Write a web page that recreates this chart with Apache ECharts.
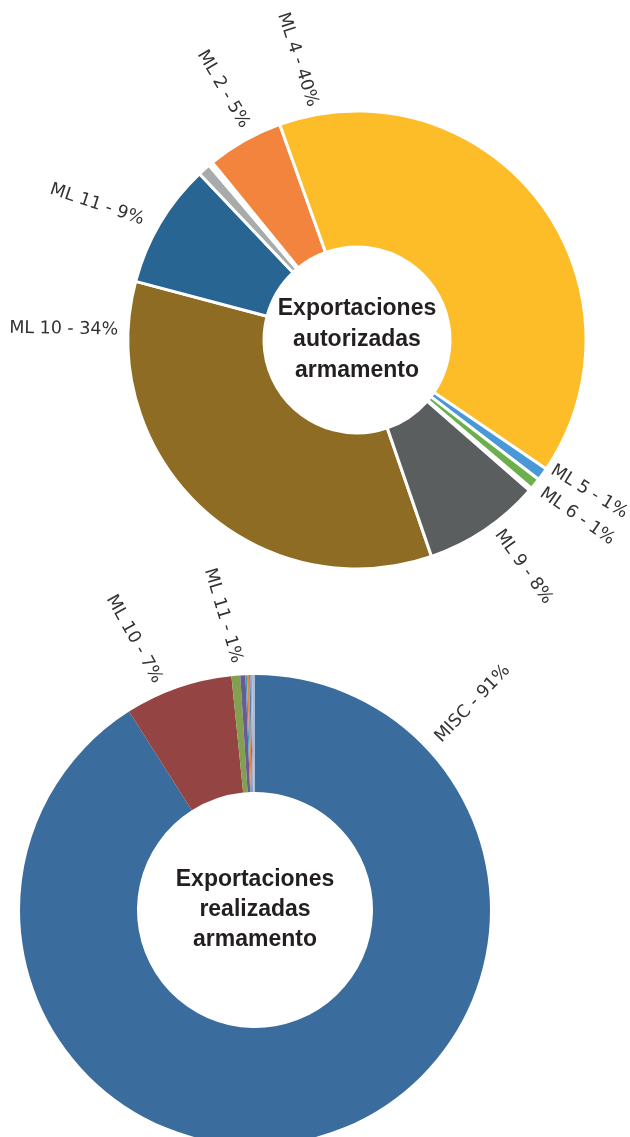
<!DOCTYPE html>
<html><head><meta charset="utf-8">
<script src="https://cdn.jsdelivr.net/npm/echarts@6/dist/echarts.min.js"></script>
<style>html,body{margin:0;padding:0;background:#fff}#c{width:630px;height:1137px}</style>
</head><body><div id="c"></div>
<script>
// ---- data ----
const autorizadasNames  = ['ML 10','ML 11','ML 13','ML 15','ML 17','ML 2','ML 4','ML 5','ML 6','ML 7','ML 9'];
const autorizadasValues = [34.4, 8.8, 0.9, 0.2, 0.1, 5.4, 40.0, 0.9, 0.8, 0.2, 8.3];
const autorizadasLabeled = ['ML 10','ML 11','ML 2','ML 4','ML 5','ML 6','ML 9'];

const realizadasNames  = ['MISC','ML 10','ML 11','ML 13','ML 2','ML 4','ML 5','ML 6','ML 9'];
const realizadasValues = [91.0, 7.4, 0.6, 0.35, 0.1, 0.15, 0.1, 0.1, 0.2];
const realizadasLabeled = ['MISC','ML 10','ML 11'];

const centerTitles = ['Exportaciones\nautorizadas\narmamento', 'Exportaciones\nrealizadas\narmamento'];

// ---- styles / layout ----
const autorizadasColors = ['#8E6C23','#286593','#A7ABAC','#6AB04C','#F0A030','#F2843E','#FDBD29','#4A98D8','#6CB04D','#C0504D','#5A5E5F'];
const realizadasColors  = ['#3A6D9E','#944442','#82A04F','#6B5B95','#3F9DB6','#E8873A','#4E7FC0','#A8A2CE','#A9BCD6'];
// label placement as in the reference: [direction of the end nearest the ring (deg clockwise from 12 o'clock),
//  text slope (deg, clockwise from horizontal), distance beyond outer radius (px)]
const autorizadasLabelPlace = {
  'ML 2': [332.3, 59.7, 12], 'ML 4': [349.3, 71.9, 9], 'ML 5': [123.5, 31.5, 5], 'ML 6': [129.4, 34.9, 10],
  'ML 9': [143.6, 54.5, 9], 'ML 10': [272.4, 1, 10], 'ML 11': [299.3, 18.5, 16]
};
const realizadasLabelPlace = { 'MISC': [47.1, -46.2, 15], 'ML 10': [336.9, 61, 13], 'ML 11': [355.8, 73.5, 13] };

const C1 = [357, 340], R1 = [93, 229];
const C2 = [255, 910], R2 = [118, 235];
const labelFont = '"DejaVu Sans", sans-serif';
const titleFont = '"Liberation Sans", Arial, sans-serif';

function placeLabel(c, r, place) {
  const theta = place[0], slope = place[1];
  const rad = (theta - 90) * Math.PI / 180;
  const dx = Math.cos(rad), dy = Math.sin(rad);
  const dist = r + place[2];
  return {
    x: c[0] + dist * dx, y: c[1] + dist * dy,
    rotate: -slope,
    align: dx < 0 ? 'right' : 'left',
    verticalAlign: 'middle'
  };
}

function buildData(names, values, colors, labeled) {
  return names.map((n, i) => ({
    name: n, value: values[i],
    itemStyle: { color: colors[i] },
    label: { show: labeled.indexOf(n) >= 0 }
  }));
}

function pieSeries(names, values, colors, labeled, places, center, radius, startAngle, border) {
  return {
    type: 'pie', center: center, radius: radius, startAngle: startAngle, clockwise: true,
    avoidLabelOverlap: false, silent: true, animation: false,
    itemStyle: { borderColor: '#fff', borderWidth: border },
    label: {
      position: 'outside', rotate: 'radial', distanceToLabelLine: 0,
      fontFamily: labelFont, fontSize: 17.5, color: '#333',
      formatter: p => p.name + ' - ' + Math.round(p.percent) + '%'
    },
    labelLine: { show: false, length: 12, length2: 0 },
    labelLayout: function (p) {
      const pl = places[names[p.dataIndex]];
      if (!pl) return {};
      return placeLabel(center, radius[1], pl);
    },
    emphasis: { disabled: true },
    data: buildData(names, values, colors, labeled)
  };
}

const chart = echarts.init(document.getElementById('c'), null, { renderer: 'canvas' });
chart.setOption({
  backgroundColor: '#fff',
  animation: false,
  series: [
    pieSeries(autorizadasNames, autorizadasValues, autorizadasColors, autorizadasLabeled, autorizadasLabelPlace, C1, R1, -71, 3),
    pieSeries(realizadasNames, realizadasValues, realizadasColors, realizadasLabeled, realizadasLabelPlace, C2, R2, 90, 0)
  ],
  graphic: [
    { type: 'text', x: C1[0], y: C1[1], silent: true,
      style: { text: centerTitles[0], align: 'center', verticalAlign: 'middle', fontFamily: titleFont, fontWeight: 'bold', fontSize: 23, lineHeight: 31, fill: '#231f20' } },
    { type: 'text', x: C2[0], y: C2[1], silent: true,
      style: { text: centerTitles[1], align: 'center', verticalAlign: 'middle', fontFamily: titleFont, fontWeight: 'bold', fontSize: 23, lineHeight: 30, fill: '#231f20' } }
  ]
});
</script></body></html>
